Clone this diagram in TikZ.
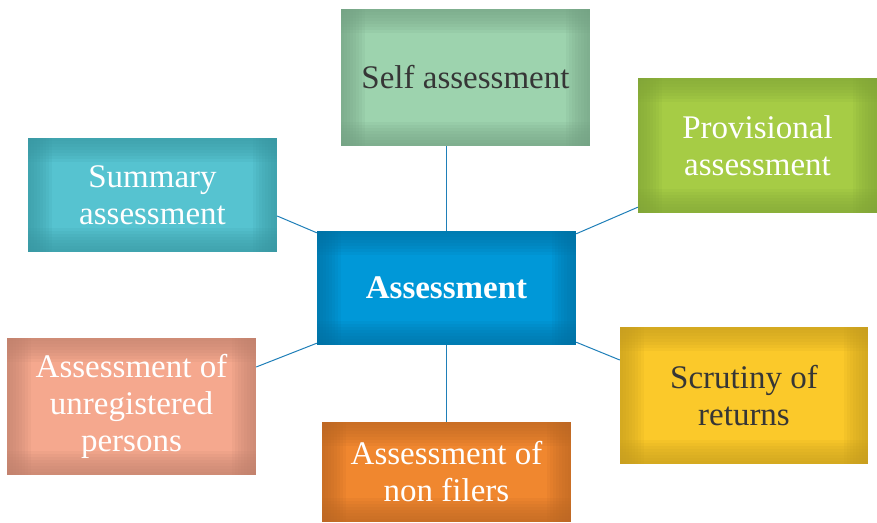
\documentclass[tikz,border=0pt]{standalone}
\usepackage{fontspec}
\setmainfont{Liberation Serif}
\definecolor{linec}{HTML}{1F7FB8}
\definecolor{cmid}{HTML}{0098D8}\definecolor{cedge}{HTML}{0072A4}
\definecolor{smid}{HTML}{9DD3AE}\definecolor{sedge}{HTML}{74A284}
\definecolor{pmid}{HTML}{A6CC45}\definecolor{pedge}{HTML}{82A638}
\definecolor{umid}{HTML}{56C3D0}\definecolor{uedge}{HTML}{3A98A3}
\definecolor{rmid}{HTML}{F5A88E}\definecolor{redge}{HTML}{C0826E}
\definecolor{nmid}{HTML}{F0872F}\definecolor{nedge}{HTML}{BC6824}
\definecolor{qmid}{HTML}{FBC92A}\definecolor{qedge}{HTML}{C69E1F}
\definecolor{darktxt}{HTML}{363636}
\tikzset{
  boxtext/.style={align=center, inner sep=0pt, font=\fontsize{33}{37}\selectfont},
  conn/.style={draw=linec, line width=1pt}
}
\newcommand\mkbox[9]{%
  \fill[#6] ({#2},{-#3}) rectangle ({#4},{-#5});
  \foreach \w in {3,6,...,24}{%
    \fill[#7, fill opacity=0.13] ({#2},{-#5}) rectangle ({#2+\w},{-#3});
    \fill[#7, fill opacity=0.13] ({#4-\w},{-#5}) rectangle ({#4},{-#3});
    \fill[#7, fill opacity=0.13] ({#2},{-#3}) rectangle ({#4},{-#3-\w});
    \fill[#7, fill opacity=0.13] ({#2},{-#5+\w}) rectangle ({#4},{-#5});
  }
  \node[boxtext, text=#8, minimum width={(#4-#2)*1pt}, minimum height={(#5-#3)*1pt}]
    (#1) at ({(#2+#4)/2},{-(#3+#5)/2}) {#9};
}
\begin{document}
\begin{tikzpicture}[x=1pt,y=1pt]
\useasboundingbox (0,0) rectangle (877,-522);
\mkbox{ctr}{317}{231}{576}{345}{cmid}{cedge}{white}{\textbf{Assessment}}
\mkbox{self}{341}{9}{590}{146}{smid}{sedge}{darktxt}{Self assessment}
\mkbox{prov}{638}{78}{877}{213}{pmid}{pedge}{white}{Provisional\\assessment}
\mkbox{sum}{28}{138}{277}{252}{umid}{uedge}{white}{Summary\\assessment}
\mkbox{unreg}{7}{338}{256}{475}{rmid}{redge}{white}{Assessment of\\unregistered\\persons}
\mkbox{nf}{322}{422}{571}{522}{nmid}{nedge}{white}{Assessment of\\non filers}
\mkbox{scr}{620}{327}{868}{464}{qmid}{qedge}{darktxt}{Scrutiny of\\returns}
\draw[conn] (ctr.north) -- (ctr.north |- self.south);
\draw[conn] (ctr.south) -- (ctr.south |- nf.north);
\draw[conn] ([yshift=-21pt]sum.east) -- ([yshift=-2pt]ctr.north west);
\draw[conn] ([yshift=6pt]prov.south west) -- ([yshift=-3pt]ctr.north east);
\draw[conn] ([yshift=39.5pt]unreg.east) -- ([yshift=2pt]ctr.south west);
\draw[conn] ([yshift=35.5pt]scr.west) -- ([yshift=3pt]ctr.south east);
\end{tikzpicture}
\end{document}
